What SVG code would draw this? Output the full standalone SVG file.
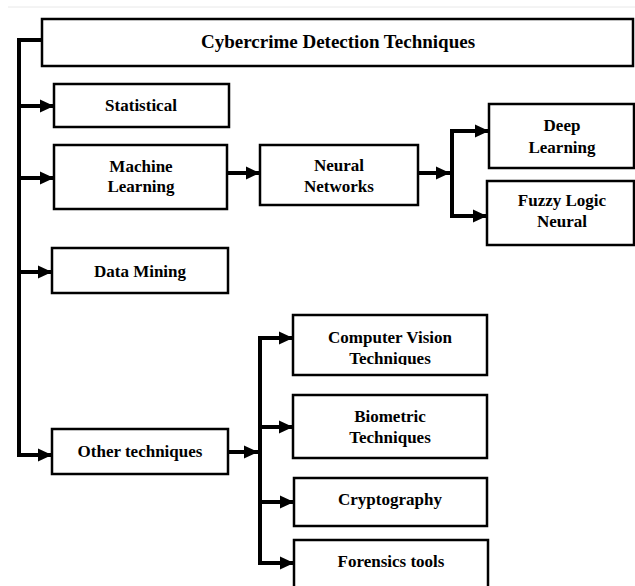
<svg xmlns="http://www.w3.org/2000/svg" width="635" height="586" viewBox="0 0 635 586">
<style>
.box{fill:#fff;stroke:#000;stroke-width:2.5}
.t{font-family:"Liberation Serif","Times New Roman",serif;font-weight:bold;font-size:17px;fill:#000;text-anchor:middle}
.c{fill:none;stroke:#000;stroke-width:4;stroke-linejoin:miter}
.a{fill:none;stroke:#000;stroke-width:4;marker-end:url(#ah)}
</style>
<defs>
<marker id="ah" markerUnits="userSpaceOnUse" markerWidth="14" markerHeight="14" refX="14" refY="7" orient="auto">
<path d="M0,0.5 L14,7 L0,13.5 z" fill="#000"/>
</marker>
<clipPath id="cvclip"><rect x="293" y="315" width="194" height="50"/></clipPath>
</defs>
<rect width="635" height="586" fill="#fff"/>
<line x1="8" y1="7" x2="635" y2="7" stroke="#e8e8e8" stroke-width="1"/>
<g id="connectors">
<polyline class="c" points="42,40 19,40 19,455"/>
<line class="a" x1="19" y1="106" x2="54" y2="106"/>
<line class="a" x1="19" y1="178" x2="54" y2="178"/>
<line class="a" x1="19" y1="272" x2="52" y2="272"/>
<line class="a" x1="17" y1="455" x2="52" y2="455"/>
<line class="a" x1="227" y1="173" x2="260" y2="173"/>
<line class="a" x1="418" y1="173" x2="450" y2="173"/>
<polyline class="c" points="488,131 452,131 452,216 486,216"/>
<line class="a" x1="452" y1="131" x2="489" y2="131"/>
<line class="a" x1="452" y1="216" x2="487" y2="216"/>
<line class="a" x1="228" y1="452" x2="258" y2="452"/>
<polyline class="c" points="293,338 260,338 260,563 293,563"/>
<line class="a" x1="260" y1="338" x2="293" y2="338"/>
<line class="a" x1="260" y1="427" x2="293" y2="427"/>
<line class="a" x1="260" y1="502" x2="294" y2="502"/>
<line class="a" x1="260" y1="563" x2="294" y2="563"/>
</g>
<g id="root">
<rect class="box" x="42" y="19" width="591" height="47"/>
<text class="t" x="338" y="48" style="font-size:19px">Cybercrime Detection Techniques</text>
</g>
<g id="statistical">
<rect class="box" x="54" y="84" width="175" height="43"/>
<text class="t" x="141" y="111">Statistical</text>
</g>
<g id="machine-learning">
<rect class="box" x="54" y="145" width="173" height="64"/>
<text class="t" x="141" y="172">Machine</text>
<text class="t" x="141" y="192">Learning</text>
</g>
<g id="neural-networks">
<rect class="box" x="260" y="145" width="158" height="60"/>
<text class="t" x="339" y="171">Neural</text>
<text class="t" x="339" y="192">Networks</text>
</g>
<g id="deep-learning">
<rect class="box" x="489" y="104" width="145" height="64"/>
<text class="t" x="562" y="131">Deep</text>
<text class="t" x="562" y="153">Learning</text>
</g>
<g id="fuzzy-logic-neural">
<rect class="box" x="487" y="181" width="147" height="64"/>
<text class="t" x="562" y="206">Fuzzy Logic</text>
<text class="t" x="562" y="227">Neural</text>
</g>
<g id="data-mining">
<rect class="box" x="52" y="248" width="176" height="45"/>
<text class="t" x="140" y="277">Data Mining</text>
</g>
<g id="other-techniques">
<rect class="box" x="52" y="429" width="176" height="45"/>
<text class="t" x="140" y="457">Other techniques</text>
</g>
<g id="computer-vision">
<rect class="box" x="293" y="315" width="194" height="60"/>
<g clip-path="url(#cvclip)">
<text class="t" x="390" y="343">Computer Vision</text>
<text class="t" x="390" y="364">Techniques</text>
</g>
</g>
<g id="biometric">
<rect class="box" x="293" y="395" width="194" height="63"/>
<text class="t" x="390" y="422">Biometric</text>
<text class="t" x="390" y="443">Techniques</text>
</g>
<g id="cryptography">
<rect class="box" x="294" y="478" width="193" height="48"/>
<text class="t" x="390" y="505">Cryptography</text>
</g>
<g id="forensics-tools">
<rect class="box" x="294" y="540" width="194" height="60"/>
<text class="t" x="391" y="567">Forensics tools</text>
</g>
</svg>
